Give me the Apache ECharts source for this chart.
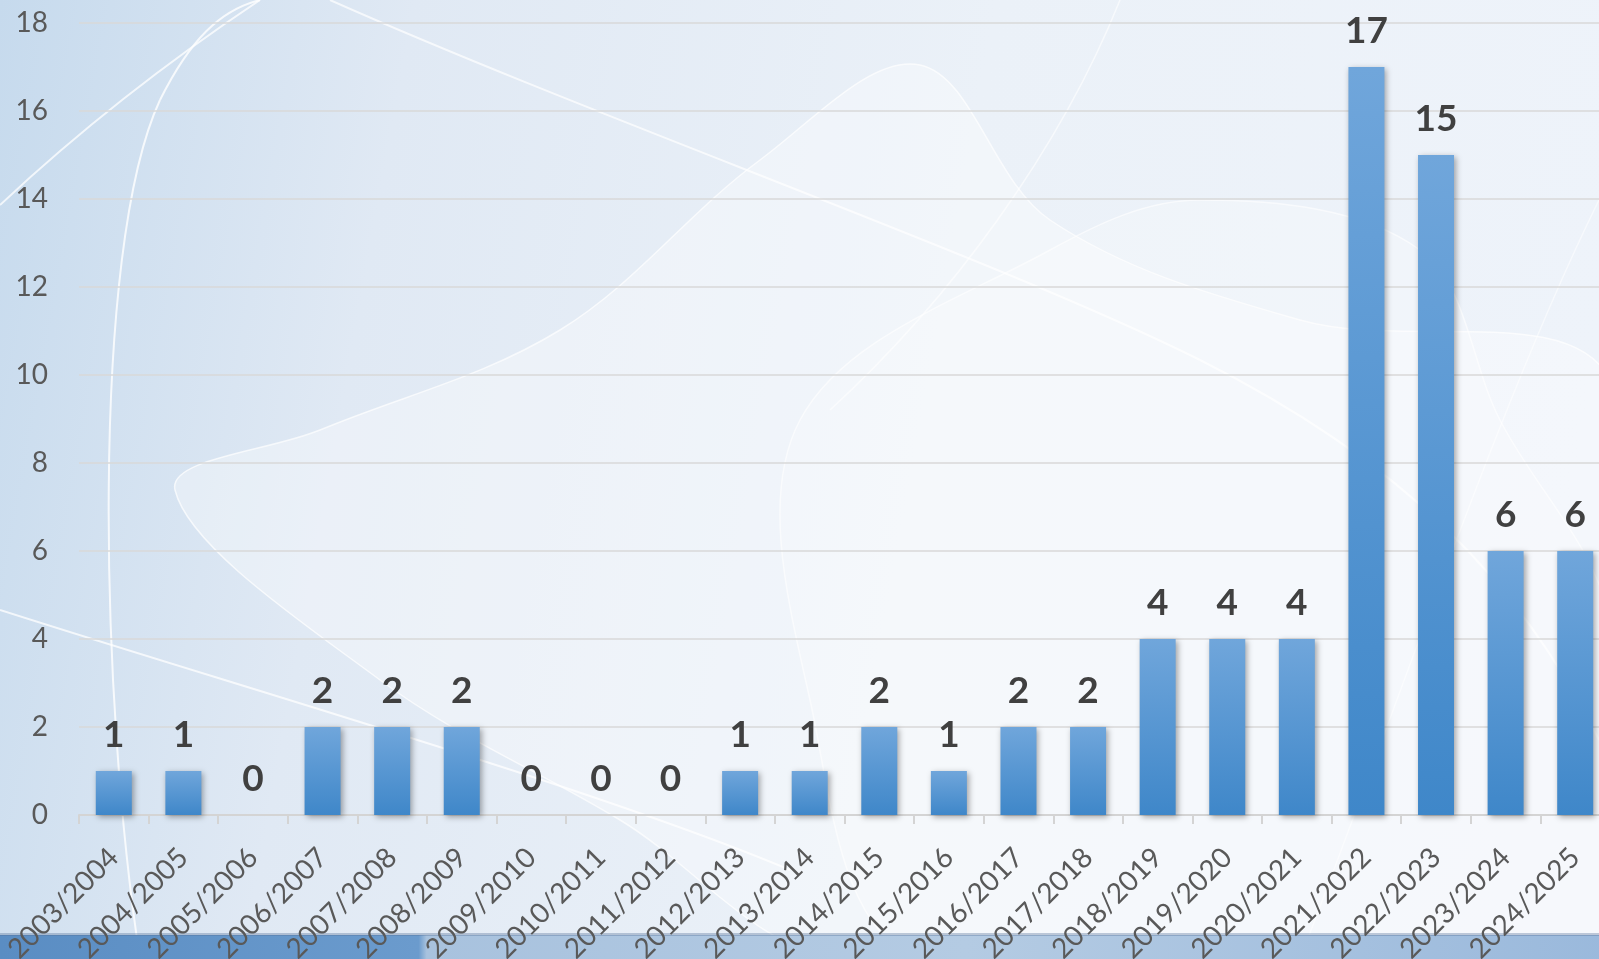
<!DOCTYPE html>
<html>
<head>
<meta charset="utf-8">
<script src="https://cdn.jsdelivr.net/npm/echarts@6/dist/echarts.min.js"></script>
<style>
html,body{margin:0;padding:0;width:1599px;height:959px;overflow:hidden;}
#c{width:1610px;height:959px;}
</style>
</head>
<body>
<div id="c"></div>
<script>
const categories = ["2003/2004","2004/2005","2005/2006","2006/2007","2007/2008","2008/2009","2009/2010","2010/2011","2011/2012","2012/2013","2013/2014","2014/2015","2015/2016","2016/2017","2017/2018","2018/2019","2019/2020","2020/2021","2021/2022","2022/2023","2023/2024","2024/2025"];
const values = [1,1,0,2,2,2,0,0,0,1,1,2,1,2,2,4,4,4,17,15,6,6];
const yTicks = [0,2,4,6,8,10,12,14,16,18];

const chart = echarts.init(document.getElementById('c'), null, {renderer:'canvas'});

function lin(x2,y2,stops){return {type:'linear',x:0,y:0,x2:x2,y2:y2,colorStops:stops};}
function curve(x1,y1,cx1,cy1,cx2,cy2,x2,y2,op,w){
  return {type:'bezierCurve', z:-9, shape:{x1:x1,y1:y1,cpx1:cx1,cpy1:cy1,cpx2:cx2,cpy2:cy2,x2:x2,y2:y2},
    style:{stroke:'rgba(255,255,255,'+op+')', lineWidth:w, fill:null}};
}

const bg = [
  {type:'rect', shape:{x:0,y:0,width:1610,height:959}, z:-10,
   style:{fill:lin(1,0.3,[
     {offset:0,color:'#c6daed'},{offset:0.25,color:'#e0e9f4'},{offset:0.6,color:'#ebf1f8'},{offset:1,color:'#eef3fa'}])}},
  {type:'polygon', z:-9, shape:{smooth:0.35, points:[[175,490],[320,430],[560,330],[760,160],[920,65],[1050,220],[1300,320],[1610,380],[1610,959],[840,959],[620,820],[380,680]]},
   style:{fill:'rgba(255,255,255,0.35)', stroke:'rgba(255,255,255,0.7)', lineWidth:1.5}},
  {type:'polygon', z:-9, shape:{smooth:0.35, points:[[800,420],[1050,250],[1200,200],[1420,250],[1500,420],[1610,620],[1610,959],[920,959],[810,700]]},
   style:{fill:'rgba(255,255,255,0.22)', stroke:'rgba(255,255,255,0.6)', lineWidth:1.5}},
  curve(140,959, 100,700, 90,250, 160,100, 0.8, 2),
  curve(160,100, 190,40, 220,10, 260,0, 0.8, 2),
  curve(0,205, 80,130, 170,60, 260,0, 0.75, 2),
  curve(0,610, 250,690, 600,790, 790,870, 0.75, 2),
  curve(330,0, 600,120, 1000,260, 1200,360, 0.7, 2),
  curve(1200,360, 1400,460, 1520,580, 1599,740, 0.7, 2),
  curve(1120,0, 1060,150, 950,300, 830,410, 0.6, 1.5),
  curve(1300,959, 1400,700, 1500,400, 1599,200, 0.5, 1.5),
  {type:'rect', z:-8, shape:{x:0,y:935,width:1610,height:24},
   style:{fill:lin(1,0,[
     {offset:0,color:'#5a8dc3'},{offset:0.26,color:'#6b9bcd'},{offset:0.265,color:'#a8c2de'},{offset:0.6,color:'#b4cbe3'},{offset:1,color:'#9ab9dc'}])}},
  {type:'rect', z:-8, shape:{x:0,y:933,width:1610,height:3},
   style:{fill:'rgba(80,110,150,0.35)'}}
];

chart.setOption({
  animation:false,
  backgroundColor:'transparent',
  graphic: bg,
  grid:{left:79, right:0, top:23, bottom:144, containLabel:false, outerBoundsMode:'none'},
  xAxis:{
    type:'category', data:categories,
    axisLine:{show:true, lineStyle:{color:'#d4d4d4', width:2}},
    axisTick:{show:true, length:9, lineStyle:{color:'#d4d4d4', width:2}},
    axisLabel:{rotate:45, margin:38, color:'#595959', fontFamily:'Lato', fontSize:28, interval:0}
  },
  yAxis:{
    type:'value', min:0, max:18, interval:2,
    axisLine:{show:false}, axisTick:{show:false},
    splitLine:{lineStyle:{color:'#d9d9d9', width:1.5}},
    axisLabel:{color:'#595959', fontFamily:'Lato', fontSize:28, margin:31,
      formatter:function(v){return yTicks.indexOf(v)>=0 ? String(v) : '';}}
  },
  series:[{
    type:'bar', data:values, barWidth:36,
    itemStyle:{
      color:lin(0,1,[{offset:0,color:'#70a6db'},{offset:1,color:'#3f87c9'}]),
      shadowBlur:6, shadowColor:'rgba(0,0,0,0.35)', shadowOffsetX:2, shadowOffsetY:2
    },
    label:{show:true, position:'top', distance:17, color:'#404040', fontFamily:'Lato', fontWeight:'bold', fontSize:37}
  }]
});
</script>
</body>
</html>
